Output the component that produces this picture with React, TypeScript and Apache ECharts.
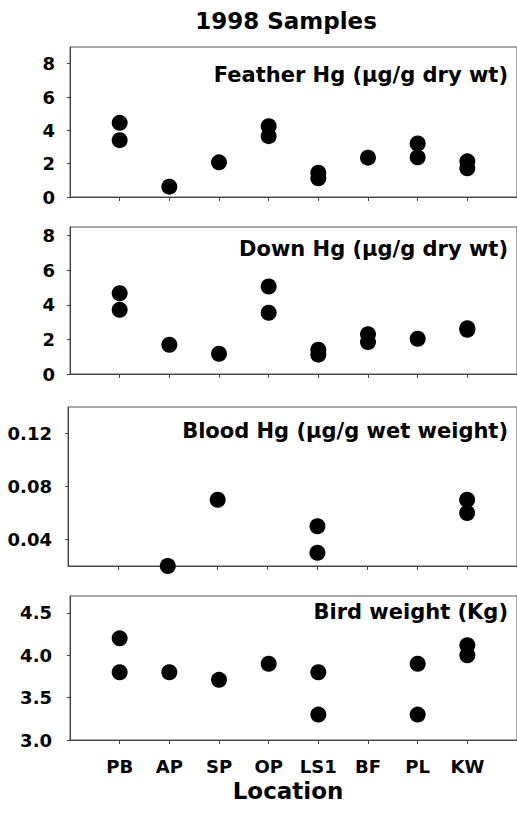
import React, { useEffect, useRef } from "react";
import * as echarts from "echarts";

const categories = ["PB", "AP", "SP", "OP", "LS1", "BF", "PL", "KW"];

const featherHg: [string, number][] = [
  ["PB", 4.45], ["PB", 3.41], ["AP", 0.62], ["SP", 2.08], ["OP", 4.25], ["OP", 3.65],
  ["LS1", 1.46], ["LS1", 1.12], ["BF", 2.36], ["PL", 3.21], ["PL", 2.38], ["KW", 2.14], ["KW", 1.72],
];
const downHg: [string, number][] = [
  ["PB", 4.67], ["PB", 3.71], ["AP", 1.69], ["SP", 1.17], ["OP", 5.06], ["OP", 3.54],
  ["LS1", 1.4], ["LS1", 1.12], ["BF", 2.3], ["BF", 1.85], ["PL", 2.04], ["KW", 2.65], ["KW", 2.56],
];
const bloodHg: [string, number][] = [
  ["AP", 0.02], ["SP", 0.07], ["LS1", 0.05], ["LS1", 0.03], ["KW", 0.07], ["KW", 0.06],
];
const birdWeight: [string, number][] = [
  ["PB", 4.2], ["PB", 3.8], ["AP", 3.8], ["SP", 3.71], ["OP", 3.9], ["LS1", 3.8], ["LS1", 3.3],
  ["PL", 3.9], ["PL", 3.3], ["KW", 4.12], ["KW", 4.0],
];

const panelLabels = [
  "Feather Hg (μg/g dry wt)",
  "Down Hg (μg/g dry wt)",
  "Blood Hg (μg/g wet weight)",
  "Bird weight (Kg)",
];
const bloodTicks = [0.04, 0.08, 0.12];
const titleText = "1998 Samples";
const xAxisTitle = "Location";

const FONT = "DejaVu Sans";

export default function App() {
  const ref = useRef<HTMLDivElement>(null);
  useEffect(() => {
    if (!ref.current) return;
    const chart = echarts.init(ref.current, null, { renderer: "svg" });
    const toPts = (arr: [string, number][]) =>
      arr.map(([c, v]) => [categories.indexOf(c) + 1, v]);
    const grids = [
      { left: 70, top: 47, height: 150, right: -3 },
      { left: 70, top: 227, height: 147, right: -3 },
      { left: 68, top: 407, height: 159, right: -1 },
      { left: 70, top: 596, height: 144, right: -3 },
    ].map((g) => ({ ...g, show: true, borderColor: "#555", borderWidth: 1, containLabel: false }));
    const tickVals = categories.map((_, i) => i + 1);
    const xAxes = grids.map((_, i) => ({
      type: "value",
      gridIndex: i,
      min: 0,
      max: 9,
      interval: 1,
      splitLine: { show: false },
      axisLine: { show: true, lineStyle: { color: "#444", width: 1 } },
      axisTick: { show: true, customValues: tickVals, length: 4, lineStyle: { color: "#444" } },
      axisLabel: {
        show: i === 3,
        customValues: tickVals,
        formatter: (v: number) => categories[Math.round(v) - 1] ?? "",
        fontFamily: FONT,
        fontWeight: "bold",
        fontSize: 18,
        color: "#000",
        margin: 17,
      },
    }));
    const yLabel = { fontFamily: FONT, fontWeight: "bold", fontSize: 18, color: "#000" };
    const yCommon = {
      type: "value",
      splitLine: { show: false },
      axisLine: { show: true, lineStyle: { color: "#444", width: 1 } },
      axisTick: { show: true, length: 3, lineStyle: { color: "#444" } },
    };
    const yAxes = [
      { ...yCommon, gridIndex: 0, min: 0, max: 9, interval: 2, axisLabel: { ...yLabel, margin: 15 } },
      { ...yCommon, gridIndex: 1, min: 0, max: 8.5, interval: 2, axisLabel: { ...yLabel, margin: 15 } },
      {
        ...yCommon, gridIndex: 2, min: 0.02, max: 0.14,
        axisTick: { ...yCommon.axisTick, customValues: bloodTicks },
        axisLabel: { ...yLabel, margin: 16, customValues: bloodTicks, formatter: (v: number) => v.toFixed(2) },
      },
      {
        ...yCommon, gridIndex: 3, min: 3, max: 4.7, interval: 0.5,
        axisLabel: { ...yLabel, margin: 18, formatter: (v: number) => v.toFixed(1) },
      },
    ];
    const datasets = [featherHg, downHg, bloodHg, birdWeight];
    const series = datasets.map((d, i) => ({
      type: "scatter",
      xAxisIndex: i,
      yAxisIndex: i,
      symbol: "circle",
      symbolSize: 16,
      clip: false,
      itemStyle: { color: "#000", opacity: 1 },
      data: toPts(d),
    }));
    const labelY = [75, 249, 431, 612];
    const textStyle = (text: string, size: number) => ({
      text,
      fontFamily: FONT,
      fontWeight: "bold",
      fontSize: size,
      fill: "#000",
    });
    const graphic: any[] = [
      { type: "text", x: 286, y: 21, style: { ...textStyle(titleText, 23), align: "center", verticalAlign: "middle" } },
      { type: "text", x: 288, y: 791, style: { ...textStyle(xAxisTitle, 23), align: "center", verticalAlign: "middle" } },
      ...panelLabels.map((t, i) => ({
        type: "text",
        x: 508,
        y: labelY[i],
        style: { ...textStyle(t, 21), align: "right", verticalAlign: "middle" },
      })),
    ];
    chart.setOption({
      animation: false,
      backgroundColor: "#fff",
      grid: grids,
      xAxis: xAxes,
      yAxis: yAxes,
      series,
      graphic,
    } as any);
    return () => chart.dispose();
  }, []);
  return (
    <div
      ref={ref}
      style={{ position: "fixed", left: 0, top: 0, width: 517, height: 815, background: "#fff" }}
    />
  );
}
